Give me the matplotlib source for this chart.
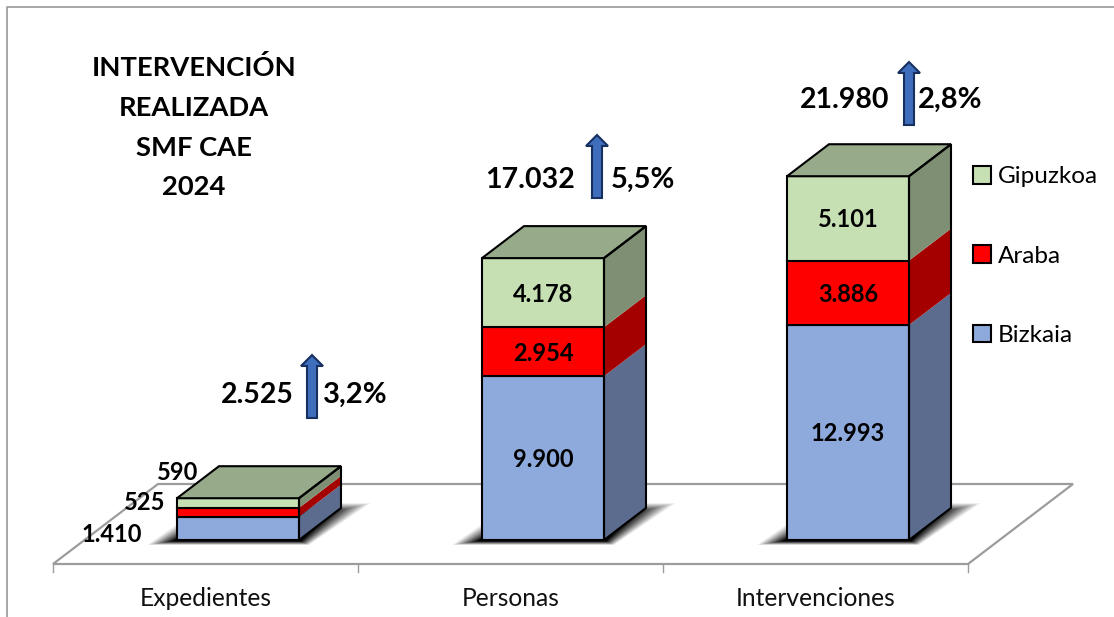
import numpy as np
import matplotlib
matplotlib.use("Agg")
import matplotlib.pyplot as plt
from matplotlib.patches import Polygon, Patch
from matplotlib.transforms import Affine2D

categories = ["Expedientes", "Personas", "Intervenciones"]
bizkaia = [1410, 9900, 12993]
araba = [525, 2954, 3886]
gipuzkoa = [590, 4178, 5101]
bizkaia_labels = ["1.410", "9.900", "12.993"]
araba_labels = ["525", "2.954", "3.886"]
gipuzkoa_labels = ["590", "4.178", "5.101"]
totals = ["2.525", "17.032", "21.980"]
changes = ["3,2%", "5,5%", "2,8%"]
title_lines = ["INTERVENCIÓN", "REALIZADA", "SMF CAE", "2024"]

W, H = 1114, 617
plt.rcParams["font.family"] = ["Lato", "DejaVu Sans"]
fig = plt.figure(figsize=(W / 100, H / 100), dpi=100, facecolor="white")
ax = fig.add_axes([0, 0, 1, 1])
ax.axis("off")

# scales: one category = 305 px, one unit = 0.01655 px
XS, YS, X0, Y0 = 305.0, 0.01655, 238.0, 540.0
ax.set_xlim((0 - X0) / XS, (W - X0) / XS)
ax.set_ylim((Y0 - H) / YS, Y0 / YS)
px = Affine2D().scale(1 / W, -1 / H).translate(0, 1) + fig.transFigure

BAR_W = 122 / XS
DX, DY = 42 / XS, 32 / YS
FLOOR_L, FLOOR_Y = (53 - X0) / XS, -24 / YS
FDX, FDY = 105 / XS, 80 / YS
GRAY = "#9c9c9c"

# outer frame
ax.plot([7, 7, W], [H, 7, 7], transform=px, color="#a0a0a0", lw=1.3, zorder=1)

# floor
fl = [(FLOOR_L, FLOOR_Y), (FLOOR_L + FDX, FLOOR_Y + FDY),
      (FLOOR_L + 3 + FDX, FLOOR_Y + FDY), (FLOOR_L + 3, FLOOR_Y)]
ax.add_patch(Polygon(fl, closed=True, fc="white", ec=GRAY, lw=1.6, zorder=1.5))
for i in range(4):
    ax.plot([FLOOR_L + i] * 2, [FLOOR_Y, FLOOR_Y - 8 / YS], color=GRAY, lw=1.0, zorder=1.5)
for i, c in enumerate(categories):
    ax.text(FLOOR_L + i + 0.5, -59 / YS, c, ha="center", va="center", fontsize=17.7, zorder=6, color="#111111")

x = np.arange(len(categories), dtype=float)
series = [
    (bizkaia, bizkaia_labels, "#8EA9DB", "#5B6C8F"),
    (araba, araba_labels, "#FF0000", "#A50000"),
    (gipuzkoa, gipuzkoa_labels, "#C6E0B4", "#7E8F73"),
]
TOP = "#97AB8A"

# soft shadows below each bar: layer opacity chosen for a linear fade
N = 30
for xi in x:
    xl, xr = xi - BAR_W / 2, xi + BAR_W / 2
    for k in range(N):
        t = k / (N - 1)
        l = (30 - 26 * t) / XS
        r = (30 - 42 * t) / XS
        b = (-5 + 4 * t) / YS
        tp = (37 - 10 * t) / YS
        ax.add_patch(Polygon(
            [(xl - l, b), (xr + (10 - 8 * t) / XS, b), (xr + DX + r, tp), (xl - l + 60 / XS, tp)],
            closed=True, fc="black", ec="none", alpha=1.0 / (N - k), zorder=2))

# stacked boxes
bottom = np.zeros(3)
for vals, labs, front, side in series:
    v = np.array(vals, dtype=float)
    for i, xi in enumerate(x):
        xl, xr = xi - BAR_W / 2, xi + BAR_W / 2
        b, t = bottom[i], bottom[i] + v[i]
        ax.add_patch(Polygon([(xr, b), (xr + DX, b + DY), (xr + DX, t + DY), (xr, t)],
                             closed=True, fc=side, ec="none", zorder=3))
        ax.bar(xi, v[i], BAR_W, bottom=b, color=front, edgecolor="black", linewidth=1.5, zorder=3.5)
    bottom += v

for i, xi in enumerate(x):
    xl, xr = xi - BAR_W / 2, xi + BAR_W / 2
    t = bottom[i]
    ax.add_patch(Polygon([(xl, t), (xl + DX, t + DY), (xr + DX, t + DY), (xr, t)],
                         closed=True, fc=TOP, ec="black", lw=1.5, zorder=4))
    ax.add_patch(Polygon([(xr, 0), (xr + DX, DY), (xr + DX, t + DY), (xr, t)],
                         closed=True, fc="none", ec="black", lw=1.5, zorder=4))

# value labels
bottom = np.zeros(3)
for vals, labs, front, side in series:
    for i in (1, 2):
        ax.text(x[i], bottom[i] + vals[i] / 2 - 1.5 / YS, labs[i], ha="center", va="center",
                fontsize=17, fontweight="bold", color="black", zorder=6)
    bottom += np.array(vals, dtype=float)
LBL = dict(fontsize=17, fontweight="bold", color="black", zorder=6, va="center", ha="right", transform=px)
ax.text(142, 535, bizkaia_labels[0], **LBL)
ax.text(165, 503, araba_labels[0], **LBL)
ax.text(198, 472, gipuzkoa_labels[0], **LBL)

# totals and arrows
arrow_x = [312, 597, 909]
arrow_top = [355, 135, 62]
total_right = [294, 575, 889]
change_left = [323, 611, 918]
text_y = [395, 179.5, 99.5]
for ax_, at, tr, cl, ty, tot, chg in zip(arrow_x, arrow_top, total_right, change_left, text_y, totals, changes):
    pts = [(ax_ - 5, at + 63), (ax_ - 5, at + 11), (ax_ - 11, at + 11), (ax_, at),
           (ax_ + 11, at + 11), (ax_ + 5, at + 11), (ax_ + 5, at + 63)]
    ax.add_patch(Polygon(pts, closed=True, fc="#3F6EBD", ec="#17305F", lw=1.5, transform=px, zorder=5))
    ax.text(tr, ty, tot, transform=px, ha="right", va="center", fontsize=20.5, fontweight="bold", color="black", zorder=6)
    ax.text(cl, ty, chg, transform=px, ha="left", va="center", fontsize=21, fontweight="bold", color="black", zorder=6)

# title
for ty, line in zip([68, 108, 148, 187], title_lines):
    ax.text(194, ty, line, transform=px, ha="center", va="center", fontsize=19.7, fontweight="bold", color="black", zorder=6)

# legend
handles = [Patch(fc=s[2], ec="black", lw=1.5) for s in series[::-1]]
leg = ax.legend(handles, ["Gipuzkoa", "Araba", "Bizkaia"], loc="upper left",
                bbox_to_anchor=(973 / W, 1 - 166 / H), frameon=False, fontsize=17.5,
                labelspacing=2.39, handlelength=0.74, handleheight=0.74, handletextpad=0.29,
                borderpad=0, borderaxespad=0)
leg.set_zorder(6)

fig.savefig("out.png", dpi=100)
